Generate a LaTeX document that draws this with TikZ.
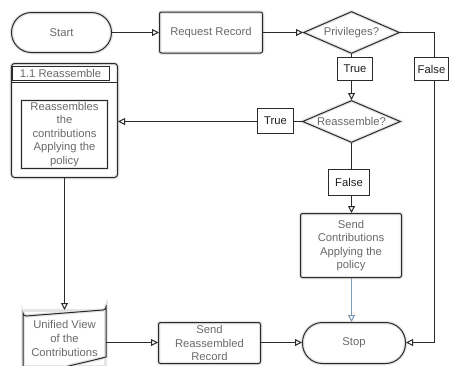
\documentclass[tikz,border=0pt]{standalone}
\usepackage{fontspec}
\setmainfont{Liberation Sans}
\usetikzlibrary{shapes.geometric,arrows.meta,calc}
\definecolor{edge}{HTML}{2A2A2A}
\definecolor{txt}{HTML}{6A6A6A}
\definecolor{lbl}{HTML}{1E1E1E}
\definecolor{bluel}{HTML}{7E9BB6}
\tikzset{
  glow/.style={preaction={draw=black!10, line width=3.5bp}},
  base/.style={draw=edge, line width=1bp, inner sep=1bp, font=\fontsize{11.3}{13.6}\selectfont, text=txt, align=center, glow},
  term/.style={base, rectangle, rounded corners=20bp, minimum width=100bp, minimum height=40bp},
  procbox/.style={base, rectangle, rounded corners=2bp, minimum width=102bp, minimum height=41bp},
  decide/.style={base, diamond, shape aspect=2.3, inner sep=0pt, minimum width=96bp, minimum height=42bp},
  tag/.style={draw=edge, line width=1bp, rectangle, inner sep=1bp, font=\fontsize{11.3}{13.6}\selectfont, text=lbl},
  conn/.style={draw=edge, line width=1bp},
  arr/.style={conn, -{Triangle[open, length=7bp, width=7bp]}},
}
\begin{document}
\begin{tikzpicture}[x=1bp,y=-1bp]
\useasboundingbox[fill=white] (0,0) rectangle (449,365);
\begin{scope}[shift={(0.5,0.5)}]
\coordinate (vx) at (351,0);
\coordinate (fx) at (434,0);
\coordinate (by) at (0,342);

% top row
\node[term] (start) at (61,32) {Start};
\node[procbox, minimum width=103bp] (req) at (210.5,32) {Request Record};
\node[decide] (priv) at (351,32) {Privileges?};

% labels
\node[tag, minimum width=35bp, minimum height=23bp] (trueA) at (354.5,68.5) {True};
\node[tag, minimum width=34bp, minimum height=23bp] (falseA) at (431,68.5) {False};

% reassemble decision
\node[decide, minimum width=98bp] (reas) at (351,121) {Reassemble?};
\node[tag, minimum width=36bp, minimum height=25bp] (trueB) at (275,120.5) {True};
\node[tag, minimum width=41bp, minimum height=26bp] (falseB) at (348.5,182) {False};

% send contributions
\node[base, rectangle, rounded corners=2bp, minimum width=101bp, minimum height=64bp] (sendc) at (350.5,245) {Send\\Contributions\\Applying the\\policy};

% stop
\node[term, minimum width=103bp, minimum height=41bp] (stop) at (353.5,342.5) {Stop};

% subprocess
\node[draw=edge, line width=1bp, glow, rectangle, rounded corners=3bp, minimum width=106bp, minimum height=114bp, inner sep=0pt] (sub) at (64,120) {};
\node[draw=edge, line width=1bp, rectangle, minimum width=97bp, minimum height=14bp, inner sep=1bp, font=\fontsize{11.3}{13.6}\selectfont, text=txt, anchor=north west] (subtitle) at (11,65) {1.1 Reassemble\hspace{22bp}};
\coordinate (sepL) at (11,82);
\coordinate (sepR) at (117,82);
\draw[conn] (sepL) -- (sepR);
\node[base, rectangle, minimum width=86bp, minimum height=68bp] (inner) at (64,134) {Reassembles\\the\\contributions\\Applying the\\policy};

% unified view (document shape)
\node[base, draw=none, preaction={}, minimum width=82bp, minimum height=56bp] (unified) at (64,338) {Unified View\\of the\\Contributions};
\draw[conn, glow] ($(unified.north west)+(0,60)$) -- ($(unified.north west)+(0,3)$)
  arc[start angle=180, end angle=90, radius=3] -- ($(unified.north east)+(-3,0)$)
  arc[start angle=90, end angle=0, radius=3] -- ($(unified.north east)+(0,47)$)
  .. controls ($(unified.north east)+(-15,51)$) and ($(unified.north east)+(-30,54)$) .. ($(unified.north east)+(-45,58)$);

% send reassembled
\node[procbox] (sendr) at (209,342.5) {Send\\Reassembled\\Record};

% connectors
\draw[arr] (start.east) -- (req.west);
\draw[arr] (req.east) -- (priv.west);
\draw[conn] (priv.east) -- (priv.east -| fx) -- (fx |- falseA.north);
\draw[arr] (fx |- falseA.south) |- (stop.east |- by);
\draw[conn] (priv.south) -- (vx |- trueA.north);
\draw[arr] (vx |- trueA.south) -- (reas.north);
\draw[conn] (reas.west) -- (trueB.east |- reas.west);
\draw[arr] (trueB.west |- reas.west) -- (sub.east |- reas.west);
\draw[conn] (reas.south) -- (vx |- falseB.north);
\draw[arr] (vx |- falseB.south) -- (vx |- sendc.north);
\draw[arr, draw=bluel] (vx |- sendc.south) -- (vx |- stop.north);
\draw[arr] (sub.south) -- (unified.north);
\draw[arr] (unified.east |- by) -- (sendr.west |- by);
\draw[arr] (sendr.east |- by) -- (stop.west |- by);
\end{scope}
\end{tikzpicture}
\end{document}
